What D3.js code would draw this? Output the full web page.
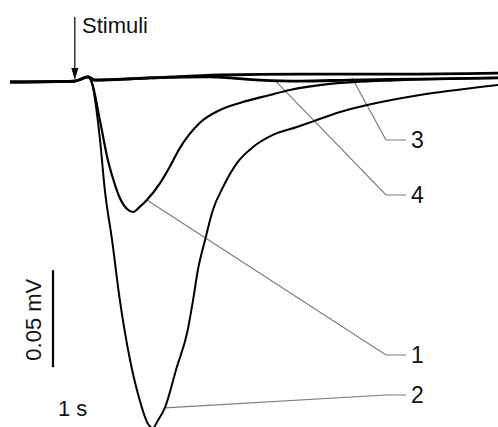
<!DOCTYPE html>
<html>
<head>
<meta charset="utf-8">
<script src="https://cdn.jsdelivr.net/npm/d3@7"></script>
<style>
    body { margin: 0; background: #fff; }
    svg { display: block; }
    text { font-family: "Liberation Sans", Arial, sans-serif; }
</style>
</head>
<body>
<div id="chart"></div>
<script>
// time in s (0 = stimulus), potential in microvolts
var trace1T = [-1.08, 0, 0.22, 0.28, 0.42, 0.55, 0.67, 0.75, 0.87, 0.97, 1.08, 1.2, 1.42, 1.58, 1.75, 2.08, 2.42, 2.75, 3.25, 3.58, 4.25, 5.42, 7.05];
var trace1V = [0, 0.5, 2.6, 0, -20.1, -40.2, -53.1, -59.8, -65.5, -67.0, -64.4, -60.8, -52.1, -43.8, -34.0, -21.1, -14.4, -10.8, -6.7, -4.1, -1.0, 1.0, 2.1];

var trace2T = [-1.08, 0, 0.22, 0.28, 0.42, 0.5, 0.62, 0.75, 0.92, 1.08, 1.22, 1.3, 1.38, 1.5, 1.7, 1.87, 1.97, 2.05, 2.17, 2.3, 2.47, 2.7, 2.97, 3.3, 3.7, 3.97, 4.42, 4.87, 5.75, 6.75, 7.05];
var trace2V = [0, 0.5, 2.6, 0, -29.9, -55.7, -81.4, -112.4, -143.3, -163.9, -176.3, -178.4, -174.7, -168, -146.9, -129.4, -112.4, -96.9, -81.4, -66.0, -54.1, -41.8, -33.5, -27.3, -23.2, -20.3, -15.5, -11.9, -6.7, -2.6, -1.5];

var trace3T = [-1.08, 0, 0.22, 0.33, 1.25, 2.42, 3.75, 5.42, 7.05];
var trace3V = [0, 0.5, 2.6, 1.0, 2.1, 3.6, 4.1, 4.1, 4.6];

var trace4T = [-1.08, 0, 0.22, 0.33, 1.25, 2.25, 3.08, 3.75, 4.58, 5.75, 7.05];
var trace4V = [0, 0.5, 2.6, 1.0, 2.1, 2.6, 1.0, 0.5, 1.0, 1.5, 2.1];

// label callouts: name, anchor on trace (t, uV)
var labelNames = ["1", "2", "3", "4"];
var labelAnchorT = [1.2, 1.5, 4.62, 3.33];
var labelAnchorV = [-60.8, -168, 2.1, 1.0];
var labelY = [355, 395, 140, 195];

var stimulusT = 0;
var scaleBarTop = -97, scaleBarSize = 50;

var width = 498, height = 427;

var svg = d3.select("#chart").append("svg:svg")
    .attr("width", width)
    .attr("height", height);

var x = d3.scaleLinear().domain([-1.08, 7.05]).range([10, 498]);
var y = d3.scaleLinear().domain([0, -50]).range([82, 179]);

var line = d3.line()
    .x(function(d) { return x(d[0]); })
    .y(function(d) { return y(d[1]); })
    .curve(d3.curveMonotoneX);

var traces = [
    { t: trace3T, v: trace3V, w: 2.8 },
    { t: trace4T, v: trace4V, w: 2.8 },
    { t: trace1T, v: trace1V, w: 2.2 },
    { t: trace2T, v: trace2V, w: 2.0 }
];

// leader lines first, traces on top
var leaders = svg.append("g").attr("id", "leaders");
for (var i = 0; i < labelNames.length; i++) {
    var ax = x(labelAnchorT[i]), ay = y(labelAnchorV[i]);
    leaders.append("path")
        .attr("d", "M" + ax + "," + ay + "L386," + labelY[i] + "L406," + labelY[i])
        .attr("fill", "none")
        .attr("stroke", "#7a7a7a")
        .attr("stroke-width", 1.2);
    leaders.append("text")
        .attr("x", 411)
        .attr("y", labelY[i] + 8)
        .attr("font-size", 23)
        .attr("fill", "#111")
        .text(labelNames[i]);
}

var traceG = svg.append("g").attr("id", "traces");
traces.forEach(function(tr) {
    var pts = tr.t.map(function(t, j) { return [t, tr.v[j]]; });
    traceG.append("path")
        .attr("d", line(pts))
        .attr("fill", "none")
        .attr("stroke", "#000")
        .attr("stroke-width", tr.w)
        .attr("stroke-linejoin", "round");
});

// stimulus marker
var sx = x(stimulusT);
svg.append("line")
    .attr("x1", sx).attr("y1", 17)
    .attr("x2", sx).attr("y2", 70)
    .attr("stroke", "#000")
    .attr("stroke-width", 1.2);
svg.append("path")
    .attr("d", "M" + (sx - 3.5) + ",68L" + (sx + 3.5) + ",68L" + sx + ",80Z")
    .attr("fill", "#000");
svg.append("text")
    .attr("x", 82)
    .attr("y", 33)
    .attr("font-size", 22)
    .attr("fill", "#111")
    .text("Stimuli");

// scale bar
svg.append("line")
    .attr("x1", 53).attr("y1", y(scaleBarTop))
    .attr("x2", 53).attr("y2", y(scaleBarTop - scaleBarSize))
    .attr("stroke", "#000")
    .attr("stroke-width", 2.2);
svg.append("text")
    .attr("transform", "translate(41," + ((y(scaleBarTop) + y(scaleBarTop - scaleBarSize)) / 2 + 1) + ") rotate(-90)")
    .attr("text-anchor", "middle")
    .attr("font-size", 22)
    .attr("fill", "#111")
    .text("0.05 mV");
svg.append("text")
    .attr("x", 58)
    .attr("y", 416)
    .attr("font-size", 22)
    .attr("fill", "#111")
    .text("1 s");
</script>
</body>
</html>
